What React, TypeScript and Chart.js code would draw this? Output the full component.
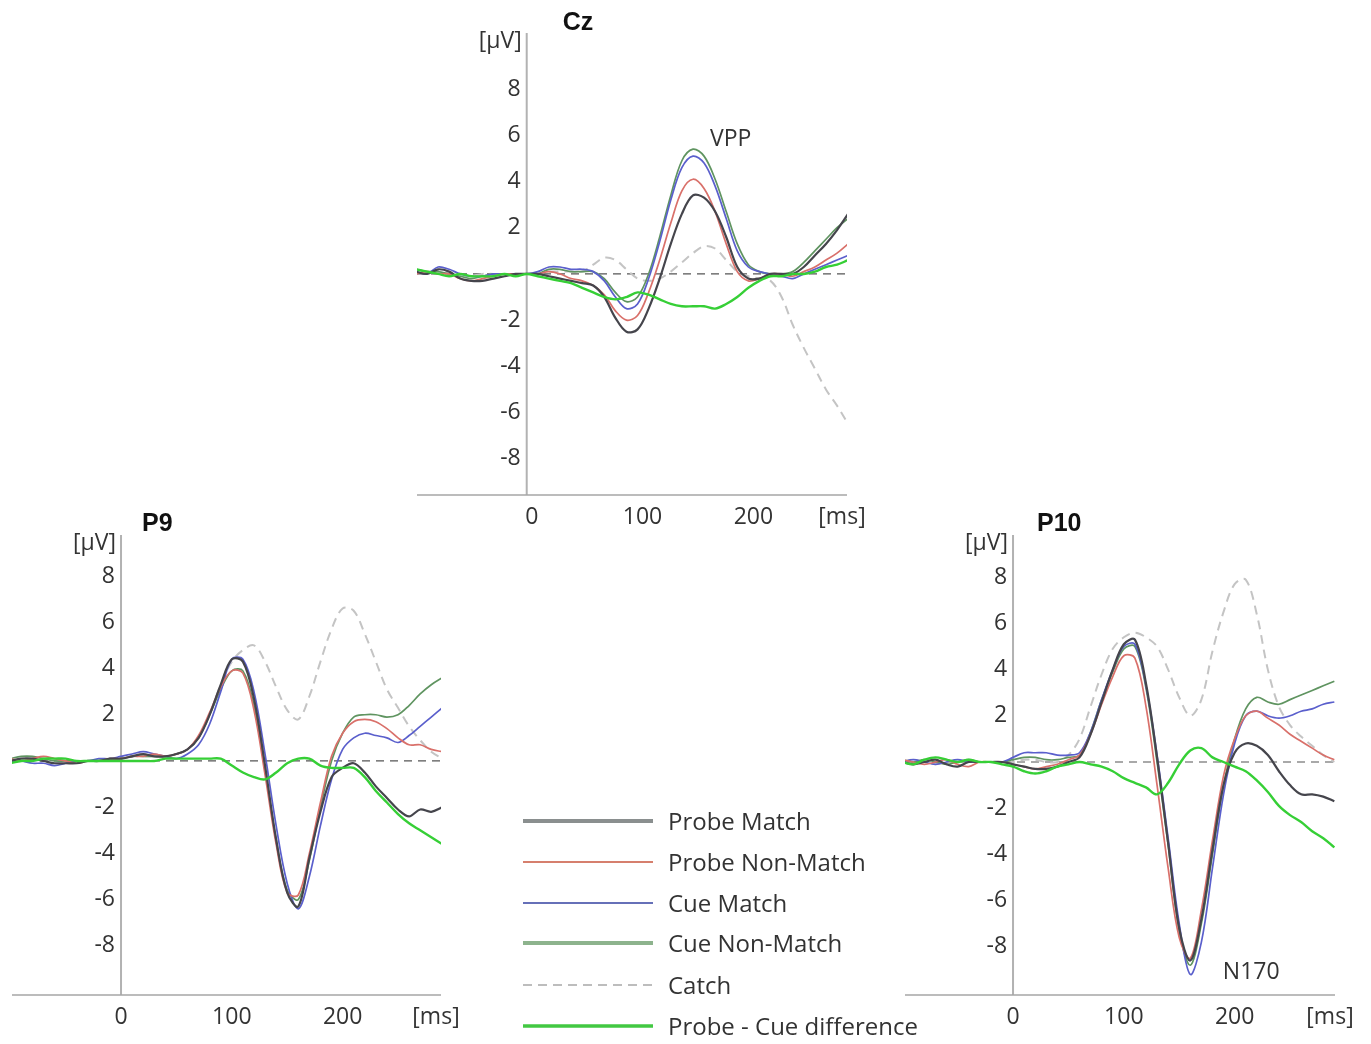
import React, { useEffect, useRef } from "react";
import { Chart, registerables } from "chart.js";

Chart.register(...registerables);

// ---------- shared axis data ----------
const TIMES = [-100, -90, -80, -70, -60, -50, -40, -30, -20, -10, 0, 10, 20, 30, 40, 50, 60, 70, 80, 90, 100, 110, 120, 130, 140, 150, 160, 170, 180, 190, 200, 210, 220, 230, 240, 250, 260, 270, 280, 290];
const Y_TICKS = [8, 6, 4, 2, -2, -4, -6, -8];
const X_TICKS = [0, 100, 200];
const SERIES_NAMES = ["Probe Match", "Probe Non-Match", "Cue Match", "Cue Non-Match", "Catch", "Probe - Cue difference"];

// ---------- Cz ----------
const CZ_PROBE_MATCH = [0.1, 0.0, 0.2, 0.1, -0.2, -0.3, -0.3, -0.2, -0.1, 0.0, 0.0, 0.0, -0.1, -0.2, -0.3, -0.4, -0.5, -1.0, -1.9, -2.5, -2.4, -1.5, -0.2, 1.3, 2.6, 3.4, 3.3, 2.7, 1.6, 0.3, -0.2, -0.2, 0.0, 0.0, 0.0, 0.3, 0.8, 1.3, 1.9, 2.6];
const CZ_PROBE_NONMATCH = [0.0, 0.1, 0.0, 0.0, -0.2, -0.3, -0.2, -0.1, 0.0, 0.0, 0.0, 0.0, 0.1, 0.0, -0.2, -0.3, -0.5, -0.9, -1.6, -2.0, -1.8, -0.8, 0.6, 2.2, 3.6, 4.1, 3.7, 2.7, 1.3, 0.1, -0.3, -0.2, 0.0, 0.0, -0.1, 0.1, 0.3, 0.6, 0.9, 1.3];
const CZ_CUE_MATCH = [0.1, 0.0, 0.3, 0.2, 0.0, -0.1, -0.1, 0.0, 0.0, 0.0, 0.0, 0.1, 0.3, 0.3, 0.2, 0.2, 0.1, -0.3, -1.0, -1.5, -1.3, -0.2, 1.4, 3.2, 4.6, 5.1, 4.8, 3.8, 2.4, 1.0, 0.3, 0.1, 0.0, -0.1, -0.2, 0.0, 0.2, 0.4, 0.6, 0.8];
const CZ_CUE_NONMATCH = [0.2, 0.1, 0.1, 0.0, -0.1, -0.2, -0.1, 0.0, 0.0, 0.0, 0.0, 0.0, 0.2, 0.2, 0.1, 0.1, 0.1, -0.2, -0.8, -1.2, -1.0, 0.0, 1.6, 3.4, 4.9, 5.4, 5.1, 4.1, 2.7, 1.3, 0.4, 0.1, 0.0, 0.0, 0.1, 0.5, 1.0, 1.5, 2.0, 2.4];
const CZ_CATCH = [0.1, 0.0, 0.1, 0.0, -0.1, -0.1, 0.0, 0.0, 0.0, 0.0, 0.0, 0.0, 0.1, 0.1, 0.1, 0.1, 0.4, 0.7, 0.6, 0.2, -0.2, -0.3, -0.2, 0.1, 0.5, 0.9, 1.2, 1.1, 0.6, 0.1, -0.1, -0.2, -0.3, -1.0, -2.2, -3.2, -4.1, -5.0, -5.7, -6.5];
const CZ_DIFF = [0.2, 0.1, 0.0, -0.1, 0.0, -0.1, -0.1, -0.1, 0.0, -0.1, 0.0, -0.1, -0.2, -0.3, -0.4, -0.6, -0.8, -1.0, -1.1, -1.0, -0.8, -0.9, -1.1, -1.3, -1.4, -1.4, -1.4, -1.5, -1.3, -1.0, -0.6, -0.3, -0.1, -0.1, 0.0, 0.0, 0.1, 0.3, 0.4, 0.6];

// ---------- P9 ----------
const P9_PROBE_MATCH = [0.0, 0.1, 0.1, 0.0, -0.1, -0.1, -0.1, 0.0, 0.0, 0.1, 0.1, 0.2, 0.3, 0.2, 0.2, 0.3, 0.5, 1.0, 2.0, 3.3, 4.4, 4.3, 2.7, -0.2, -3.4, -5.7, -6.3, -4.2, -2.2, -0.7, -0.3, -0.1, -0.5, -1.1, -1.6, -2.1, -2.4, -2.1, -2.2, -2.0];
const P9_PROBE_NONMATCH = [0.1, 0.0, 0.1, 0.2, 0.1, 0.0, -0.1, 0.0, 0.0, 0.1, 0.1, 0.2, 0.2, 0.3, 0.2, 0.3, 0.5, 1.1, 2.1, 3.2, 3.9, 3.8, 2.2, -0.6, -3.6, -5.7, -5.8, -4.0, -1.8, 0.2, 1.2, 1.7, 1.8, 1.7, 1.4, 1.0, 0.7, 0.7, 0.5, 0.4];
const P9_CUE_MATCH = [0.0, 0.0, -0.1, -0.1, -0.2, -0.1, 0.0, 0.0, 0.1, 0.1, 0.2, 0.3, 0.4, 0.3, 0.2, 0.1, 0.3, 0.7, 1.6, 3.0, 4.4, 4.4, 3.0, 0.3, -2.8, -5.3, -6.4, -5.0, -2.8, -0.8, 0.5, 1.0, 1.2, 1.1, 1.0, 0.8, 1.1, 1.5, 1.9, 2.3];
const P9_CUE_NONMATCH = [0.1, 0.2, 0.2, 0.1, 0.0, 0.0, 0.0, 0.0, 0.0, 0.1, 0.1, 0.2, 0.2, 0.2, 0.2, 0.3, 0.5, 1.0, 2.0, 3.1, 3.9, 3.9, 2.4, -0.4, -3.4, -5.6, -6.0, -4.3, -2.0, 0.0, 1.2, 1.9, 2.0, 2.0, 1.9, 2.0, 2.4, 2.9, 3.3, 3.6];
const P9_CATCH = [0.0, 0.1, 0.1, 0.1, 0.0, 0.0, 0.0, 0.0, 0.0, 0.1, 0.1, 0.2, 0.2, 0.2, 0.2, 0.3, 0.5, 1.0, 2.0, 3.3, 4.3, 4.8, 5.0, 4.3, 3.2, 2.2, 1.8, 2.8, 4.3, 5.7, 6.6, 6.5, 5.5, 4.3, 3.1, 2.3, 1.5, 0.9, 0.4, 0.1];
const P9_DIFF = [-0.1, 0.0, 0.0, 0.1, 0.1, 0.1, 0.0, 0.0, 0.0, 0.0, 0.0, 0.0, 0.0, 0.0, 0.1, 0.1, 0.1, 0.1, 0.1, 0.1, -0.2, -0.5, -0.7, -0.8, -0.5, -0.1, 0.1, 0.1, -0.2, -0.3, -0.3, -0.3, -0.7, -1.3, -1.8, -2.3, -2.7, -3.0, -3.3, -3.6];

// ---------- P10 ----------
const P10_PROBE_MATCH = [0.0, -0.1, 0.0, 0.1, -0.1, -0.2, 0.0, 0.0, 0.0, 0.0, -0.1, -0.2, -0.3, -0.3, -0.2, 0.0, 0.2, 1.2, 2.6, 4.0, 5.1, 5.3, 3.4, 0.2, -3.5, -7.2, -8.6, -6.8, -3.8, -1.0, 0.4, 0.8, 0.7, 0.3, -0.4, -1.0, -1.4, -1.4, -1.5, -1.7];
const P10_PROBE_NONMATCH = [0.1, 0.0, -0.1, 0.0, 0.1, -0.1, -0.2, 0.0, 0.0, 0.0, -0.1, -0.2, -0.3, -0.2, -0.1, 0.1, 0.3, 1.2, 2.5, 3.7, 4.6, 4.5, 2.4, -1.0, -4.6, -7.6, -8.5, -6.4, -3.4, -0.6, 1.0, 2.0, 2.2, 1.9, 1.6, 1.2, 0.9, 0.6, 0.3, 0.1];
const P10_CUE_MATCH = [0.0, 0.1, 0.0, -0.1, 0.0, 0.1, 0.0, 0.0, 0.0, 0.0, 0.2, 0.4, 0.4, 0.4, 0.3, 0.3, 0.4, 1.3, 2.7, 4.0, 5.0, 5.1, 3.3, 0.3, -3.3, -7.0, -9.2, -7.8, -4.6, -1.4, 0.8, 2.0, 2.2, 2.0, 1.9, 2.0, 2.2, 2.3, 2.5, 2.6];
const P10_CUE_NONMATCH = [0.1, 0.0, 0.1, 0.0, -0.1, 0.0, 0.1, 0.0, 0.0, 0.0, 0.1, 0.2, 0.2, 0.1, 0.1, 0.2, 0.3, 1.3, 2.7, 3.9, 4.9, 5.0, 3.2, 0.0, -3.6, -7.3, -8.8, -7.0, -4.0, -1.0, 1.0, 2.3, 2.8, 2.6, 2.5, 2.7, 2.9, 3.1, 3.3, 3.5];
const P10_CATCH = [0.0, 0.1, 0.0, -0.1, 0.0, 0.1, 0.0, 0.0, 0.0, 0.0, 0.0, 0.1, 0.1, 0.0, 0.0, 0.3, 1.0, 2.4, 3.8, 4.9, 5.4, 5.6, 5.4, 5.0, 4.0, 2.8, 2.0, 2.7, 4.8, 6.5, 7.7, 7.9, 6.4, 4.0, 2.4, 1.6, 1.1, 0.7, 0.3, 0.0];
const P10_DIFF = [0.0, -0.1, 0.1, 0.2, 0.1, 0.0, 0.1, 0.0, 0.0, -0.1, -0.2, -0.4, -0.5, -0.4, -0.2, -0.1, 0.0, -0.1, -0.2, -0.4, -0.7, -0.9, -1.1, -1.4, -0.9, -0.1, 0.5, 0.6, 0.2, 0.0, -0.2, -0.4, -0.8, -1.3, -1.9, -2.3, -2.6, -3.0, -3.3, -3.7];

// ---------- styles ----------
const FONT = "'Open Sans', 'Noto Sans', sans-serif";
const TEXT_COLOR = "#333333";
const SERIES_STYLE = [
  { color: "#45454c", width: 2.2, dash: [] as number[], order: 1 },
  { color: "#d9706a", width: 1.7, dash: [] as number[], order: 2 },
  { color: "#5a5fcc", width: 1.7, dash: [] as number[], order: 3 },
  { color: "#5f9460", width: 1.7, dash: [] as number[], order: 4 },
  { color: "#c4c4c4", width: 2, dash: [9, 6], order: 5 },
  { color: "#36cf36", width: 2.4, dash: [] as number[], order: 0 },
];
const LEGEND_STYLE = [
  { color: "#8a8f8f", width: 4, dash: "" },
  { color: "#d67f6d", width: 2, dash: "" },
  { color: "#6670b8", width: 2.2, dash: "" },
  { color: "#8db38d", width: 4, dash: "" },
  { color: "#a8a8a8", width: 1.6, dash: "9 6" },
  { color: "#42c842", width: 3.5, dash: "" },
];

const erpAxes = {
  id: "erpAxes",
  beforeDatasetsDraw(chart: any, _a: any, opts: any) {
    const { ctx, chartArea: ca } = chart;
    const xs = chart.scales.x;
    const ys = chart.scales.y;
    const ax = xs.getPixelForValue(0);
    const y0 = ys.getPixelForValue(0);
    ctx.save();
    // zero dashed reference line
    ctx.strokeStyle = "#555";
    ctx.lineWidth = 1.2;
    ctx.setLineDash([8, 6]);
    ctx.beginPath();
    ctx.moveTo(ca.left, y0);
    ctx.lineTo(ca.right, y0);
    ctx.stroke();
    ctx.setLineDash([]);
    // vertical axis at 0 ms
    ctx.strokeStyle = "#b2b2b2";
    ctx.lineWidth = 2;
    ctx.beginPath();
    ctx.moveTo(ax, ca.top);
    ctx.lineTo(ax, ca.bottom);
    ctx.stroke();
    // horizontal axis
    ctx.strokeStyle = "#a6a6a6";
    ctx.lineWidth = 1.5;
    ctx.beginPath();
    ctx.moveTo(ca.left, ca.bottom);
    ctx.lineTo(ca.right, ca.bottom);
    ctx.stroke();
    // tick labels
    ctx.fillStyle = TEXT_COLOR;
    ctx.font = `23px ${FONT}`;
    ctx.textAlign = "right";
    ctx.textBaseline = "middle";
    for (const v of Y_TICKS) {
      ctx.fillText(String(v), ax - 6, ys.getPixelForValue(v));
    }
    ctx.fillText("[µV]", ax - 5, ca.top + 8);
    ctx.textAlign = "center";
    for (const v of X_TICKS) {
      ctx.fillText(String(v), xs.getPixelForValue(v) + opts.xLabelDx, ca.bottom + 22);
    }
    ctx.fillText("[ms]", ca.right - 5, ca.bottom + 22);
    // title
    ctx.fillStyle = "#111";
    ctx.font = `bold 25px 'Liberation Sans', Arial, sans-serif`;
    ctx.textAlign = "left";
    ctx.fillText(opts.title, ax + opts.titleDx, ca.top + opts.titleDy);
    // annotation
    if (opts.note) {
      ctx.fillStyle = TEXT_COLOR;
      ctx.font = `23px ${FONT}`;
      ctx.textAlign = "center";
      ctx.fillText(opts.note.text, xs.getPixelForValue(opts.note.x), ys.getPixelForValue(opts.note.y));
    }
    ctx.restore();
  },
};

type PanelProps = {
  left: number; top: number; width: number; height: number;
  padding: { left: number; right: number; top: number; bottom: number };
  xMin: number; xMax: number; yMin: number; yMax: number;
  series: number[][];
  title: string; titleDx: number; titleDy: number; xLabelDx: number;
  note?: { text: string; x: number; y: number };
};

function Panel(p: PanelProps) {
  const ref = useRef<HTMLCanvasElement | null>(null);
  useEffect(() => {
    if (!ref.current) return;
    const chart = new Chart(ref.current, {
      type: "line",
      data: {
        datasets: p.series.map((vals, i) => ({
          label: SERIES_NAMES[i],
          data: TIMES.map((t, k) => ({ x: t, y: vals[k] })),
          borderColor: SERIES_STYLE[i].color,
          borderWidth: SERIES_STYLE[i].width,
          borderDash: SERIES_STYLE[i].dash,
          order: SERIES_STYLE[i].order,
          pointRadius: 0,
          fill: false,
          tension: 0.35,
        })),
      },
      options: {
        animation: false,
        responsive: false,
        maintainAspectRatio: false,
        layout: { padding: p.padding },
        scales: {
          x: { type: "linear", min: p.xMin, max: p.xMax, display: false },
          y: { type: "linear", min: p.yMin, max: p.yMax, display: false },
        },
        plugins: {
          legend: { display: false },
          tooltip: { enabled: false },
          erpAxes: { title: p.title, titleDx: p.titleDx, titleDy: p.titleDy, note: p.note, xLabelDx: p.xLabelDx },
        } as any,
      },
      plugins: [erpAxes],
    });
    return () => chart.destroy();
  }, []);
  return (
    <canvas
      ref={ref}
      width={p.width}
      height={p.height}
      style={{ position: "absolute", left: p.left, top: p.top, width: p.width, height: p.height }}
    />
  );
}

const LEGEND_Y = [821, 862, 903, 943, 985, 1026];

function Legend() {
  return (
    <div style={{ position: "absolute", left: 0, top: 0, width: 1371, height: 1044, pointerEvents: "none" }}>
      <svg width={1371} height={1044} style={{ position: "absolute", left: 0, top: 0 }}>
        {SERIES_NAMES.map((_, i) => (
          <line
            key={i}
            x1={523}
            x2={653}
            y1={LEGEND_Y[i]}
            y2={LEGEND_Y[i]}
            stroke={LEGEND_STYLE[i].color}
            strokeWidth={LEGEND_STYLE[i].width}
            strokeDasharray={LEGEND_STYLE[i].dash || undefined}
          />
        ))}
      </svg>
      {SERIES_NAMES.map((name, i) => (
        <div
          key={name}
          style={{
            position: "absolute",
            left: 668,
            top: LEGEND_Y[i] - 16,
            height: 32,
            lineHeight: "32px",
            fontFamily: FONT,
            fontSize: 24,
            color: TEXT_COLOR,
            whiteSpace: "nowrap",
          }}
        >
          {name}
        </div>
      ))}
    </div>
  );
}

export default function App() {
  return (
    <div style={{ position: "absolute", left: 0, top: 0, width: 1371, height: 1044, background: "#fff", overflow: "hidden" }}>
      <Panel
        left={380} top={0} width={500} height={545}
        padding={{ left: 37, right: 33, top: 33, bottom: 50 }}
        xMin={-99} xMax={289} yMin={-9.57} yMax={10.43}
        series={[CZ_PROBE_MATCH, CZ_PROBE_NONMATCH, CZ_CUE_MATCH, CZ_CUE_NONMATCH, CZ_CATCH, CZ_DIFF]}
        title="Cz" titleDx={36} titleDy={-10} xLabelDx={5}
        note={{ text: "VPP", x: 184, y: 5.8 }}
      />
      <Panel
        left={0} top={500} width={460} height={545}
        padding={{ left: 12, right: 19, top: 35, bottom: 50 }}
        xMin={-98.4} xMax={288.8} yMin={-10.13} yMax={9.78}
        series={[P9_PROBE_MATCH, P9_PROBE_NONMATCH, P9_CUE_MATCH, P9_CUE_NONMATCH, P9_CATCH, P9_DIFF]}
        title="P9" titleDx={21} titleDy={-11} xLabelDx={0}
        note={undefined}
      />
      <Panel
        left={880} top={500} width={491} height={545}
        padding={{ left: 25, right: 36, top: 35, bottom: 50 }}
        xMin={-97.5} xMax={290.6} yMin={-10.09} yMax={9.83}
        series={[P10_PROBE_MATCH, P10_PROBE_NONMATCH, P10_CUE_MATCH, P10_CUE_NONMATCH, P10_CATCH, P10_DIFF]}
        title="P10" titleDx={24} titleDy={-11} xLabelDx={0}
        note={{ text: "N170", x: 215, y: -9.1 }}
      />
      <Legend />
    </div>
  );
}
